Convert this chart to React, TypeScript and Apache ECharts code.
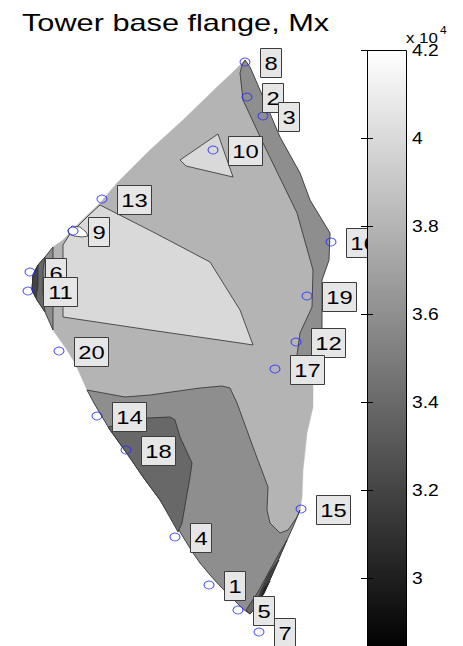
import React, { useEffect, useRef } from 'react';
import * as echarts from 'echarts';

const titleText = 'Tower base flange, Mx';

// Measurement points (picture coordinates of the hidden axes)
const pointNames = ['1', '2', '3', '4', '5', '6', '7', '8', '9', '10', '11', '12', '13', '14', '15', '16', '17', '18', '19', '20'];
const pointX = [209, 247, 263, 175, 238, 30, 259, 245, 73, 213, 28, 296, 102, 97, 301, 331, 275, 126, 307, 59];
const pointY = [585, 97, 116, 537, 610, 272, 632, 62, 231, 150, 291, 342, 199, 416, 509, 242, 369, 450, 296, 351];

// Filled contour regions (painter order) and their levels (x 10^4)
const regionLevels = [3.8, 3.6, 3.6, 3.4, 3.4, 3.2, 3.0, 3.6, 3.4, 3.2, 4.0, 4.0, 4.2];
const hullShape = [
  [245, 60], [250, 67], [263, 97], [280, 137], [300, 173], [310, 200], [330, 233], [329, 260], [322, 280],
  [322, 327], [313, 383], [313, 407], [307, 433], [303, 470], [302, 497], [300, 510], [293, 527], [287, 540],
  [280, 556], [272, 575], [264, 593], [256, 607], [250, 614], [243, 609], [232, 598], [220, 586], [210, 575],
  [200, 563], [193, 553], [180, 532], [160, 500], [143, 477], [128, 455], [110, 430], [95, 405], [87, 390],
  [75, 363], [67, 350], [53, 330], [45, 312], [37, 300], [32, 290], [33, 275], [38, 265], [45, 257], [53, 247],
  [63, 240], [77, 225], [100, 203], [117, 183], [150, 150], [183, 120], [217, 87], [232, 73]
];
const topBandShape = [
  [245, 60], [250, 67], [263, 97], [280, 137], [300, 173], [310, 200], [330, 233], [329, 260], [322, 280],
  [322, 327], [313, 383], [300, 368], [297, 355], [300, 333], [312, 307], [313, 270], [297, 213], [263, 143],
  [243, 100], [240, 73], [242, 65]
];
const bottomBandShape = [
  [87, 390], [125, 397], [150, 395], [200, 388], [222, 386], [230, 388], [237, 403], [253, 447], [268, 487],
  [267, 510], [270, 523], [280, 533], [288, 530], [297, 517], [300, 510], [293, 527], [287, 540], [280, 556],
  [272, 575], [264, 593], [256, 607], [250, 614], [243, 609], [232, 598], [220, 586], [210, 575], [200, 563],
  [193, 553], [180, 532], [160, 500], [143, 477], [128, 455], [110, 430], [95, 405]
];
const region18Shape = [
  [108, 427], [147, 418], [170, 417], [175, 420], [180, 437], [192, 463], [190, 477], [182, 523], [178, 532],
  [160, 500], [143, 477], [128, 455]
];
const tip34Shape = [[287, 540], [280, 556], [272, 575], [264, 593], [256, 607], [250, 614], [246, 610], [258, 592], [270, 570], [280, 552]];
const tip32Shape = [[279, 560], [272, 575], [264, 593], [256, 606], [261, 591], [270, 572]];
const tip30Shape = [[270, 581], [264, 593], [259, 601], [264, 588]];
const left36Shape = [[53, 247], [45, 257], [38, 265], [33, 275], [32, 290], [37, 300], [45, 312], [53, 330], [53, 290]];
const left34Shape = [[45, 257], [38, 265], [33, 275], [32, 290], [37, 300], [45, 312], [43, 292], [43, 270]];
const left32Shape = [[38, 265], [33, 275], [32, 290], [36, 298], [38, 285], [38, 272]];
const lightShape = [
  [100, 205], [155, 233], [210, 262], [240, 310], [253, 345], [240, 343], [150, 330], [63, 317], [63, 245],
  [70, 234], [88, 216]
];
const triangle10Shape = [[180, 160], [218, 134], [233, 177], [186, 166]];
const bubble9Shape = [[68, 230], [72, 226], [80, 227], [86, 232], [88, 236], [82, 237], [74, 236], [69, 234]];
const regionShapes = [
  hullShape, topBandShape, bottomBandShape, region18Shape, tip34Shape, tip32Shape, tip30Shape,
  left36Shape, left34Shape, left32Shape, lightShape, triangle10Shape, bubble9Shape
];

// Colorbar (colour limits of the gray colormap, x 10^4)
const colorbarMin = 2.845;
const colorbarMax = 4.2;
const colorbarTicks = [3, 3.2, 3.4, 3.6, 3.8, 4, 4.2];
const colorbarTickLabels = ['3', '3.2', '3.4', '3.6', '3.8', '4', '4.2'];
const colorbarMultiplier = 'x 10';
const colorbarExponent = '4';

const FONT = '"Liberation Sans", Arial, sans-serif';

function grayOf(v: number): string {
  let t = (v - colorbarMin) / (colorbarMax - colorbarMin);
  t = Math.max(0, Math.min(1, t));
  const c = Math.round(t * 255);
  return `rgb(${c},${c},${c})`;
}

export default function App() {
  const ref = useRef<HTMLDivElement>(null);
  useEffect(() => {
    document.body.style.margin = '0';
    const chart = echarts.init(ref.current!, null, { renderer: 'svg' });
    const cbAxis = (position: string) => ({
      gridIndex: 1, type: 'value', min: colorbarMin, max: colorbarMax, position, z: 20,
      axisLine: { show: false }, axisLabel: { show: false }, splitLine: { show: false },
      axisTick: { show: true, inside: true, length: 6, customValues: colorbarTicks, lineStyle: { color: '#000', width: 1 } }
    });
    const option: any = {
      animation: false,
      backgroundColor: '#ffffff',
      grid: [
        { left: 0, top: 0, width: 463, height: 646 },
        { left: 367, top: 50, width: 39, bottom: 0 }
      ],
      xAxis: [
        { gridIndex: 0, type: 'value', min: 0, max: 463, show: false },
        { gridIndex: 1, type: 'value', min: 0, max: 1, show: false }
      ],
      yAxis: [
        { gridIndex: 0, type: 'value', min: 0, max: 646, inverse: true, show: false },
        cbAxis('right'),
        cbAxis('left')
      ],
      graphic: [
        {
          type: 'text', x: 22, y: 23, scaleX: 1.28, z: 30,
          style: { text: titleText, font: `24px ${FONT}`, fill: '#000', align: 'left', verticalAlign: 'middle' }
        },
        {
          type: 'text', x: 406, y: 38, scaleX: 1.2, z: 30,
          style: { text: colorbarMultiplier, font: `14px ${FONT}`, fill: '#000', align: 'left', verticalAlign: 'middle' }
        },
        {
          type: 'text', x: 440, y: 30, scaleX: 1.2, z: 30,
          style: { text: colorbarExponent, font: `10px ${FONT}`, fill: '#000', align: 'left', verticalAlign: 'middle' }
        }
      ],
      series: [
        {
          type: 'custom', name: 'contours', xAxisIndex: 0, yAxisIndex: 0, clip: false, z: 2, silent: true,
          data: regionLevels.map((lv, i) => [i, lv]),
          renderItem: (params: any, api: any) => {
            const i = params.dataIndex;
            const pts = regionShapes[i].map((p) => api.coord(p));
            const isHull = i === 0;
            return {
              type: 'polygon',
              shape: { points: pts },
              style: {
                fill: grayOf(regionLevels[i]),
                stroke: isHull ? grayOf(regionLevels[i]) : '#2e2e2e',
                lineWidth: isHull ? 0.5 : 0.8
              }
            };
          }
        },
        {
          type: 'scatter', name: 'points', xAxisIndex: 0, yAxisIndex: 0, z: 4, silent: true,
          symbol: 'circle', symbolSize: [10, 8],
          itemStyle: { color: 'rgba(0,0,0,0)', borderColor: '#2a2aff', borderWidth: 1 },
          data: pointX.map((x, i) => [x, pointY[i]])
        },
        {
          type: 'custom', name: 'labels', xAxisIndex: 0, yAxisIndex: 0, clip: false, z: 5, silent: true,
          data: pointX.map((x, i) => [x, pointY[i]]),
          renderItem: (params: any, api: any) => {
            const i = params.dataIndex;
            const p = api.coord([pointX[i], pointY[i]]);
            const name = pointNames[i];
            const w = name.length > 1 ? 34 : 21;
            const left = Math.round(p[0] + 15) + 0.5;
            const top = Math.round(p[1] - 14.5) + 0.5;
            return {
              type: 'group',
              children: [
                {
                  type: 'rect', shape: { x: left, y: top, width: w, height: 29 },
                  style: { fill: '#e6e6e6', stroke: '#3c3c3c', lineWidth: 1 }
                },
                {
                  type: 'text', x: left + w / 2, y: top + 15, scaleX: 1.25,
                  style: { text: name, font: `19px ${FONT}`, fill: '#000', align: 'center', verticalAlign: 'middle' }
                }
              ]
            };
          }
        },
        {
          type: 'custom', name: 'colorbar', xAxisIndex: 1, yAxisIndex: 1, clip: false, z: 15, silent: true,
          data: [[0, colorbarMin]],
          renderItem: (params: any, api: any) => {
            const tl = api.coord([0, colorbarMax]);
            const br = api.coord([1, colorbarMin]);
            return {
              type: 'rect',
              shape: { x: tl[0] + 0.5, y: tl[1] + 0.5, width: br[0] - tl[0], height: br[1] - tl[1] + 4 },
              style: {
                fill: new echarts.graphic.LinearGradient(0, 0, 0, 1, [
                  { offset: 0, color: grayOf(colorbarMax) },
                  { offset: 1, color: grayOf(colorbarMin) }
                ]),
                stroke: '#000', lineWidth: 1
              }
            };
          }
        },
        {
          type: 'custom', name: 'colorbarLabels', xAxisIndex: 1, yAxisIndex: 1, clip: false, z: 16, silent: true,
          data: colorbarTicks.map((v) => [1, v]),
          renderItem: (params: any, api: any) => {
            const i = params.dataIndex;
            const p = api.coord([1, colorbarTicks[i]]);
            return {
              type: 'text', x: p[0] + 6, y: p[1] + 1, scaleX: 1.2,
              style: { text: colorbarTickLabels[i], font: `16px ${FONT}`, fill: '#000', align: 'left', verticalAlign: 'middle' }
            };
          }
        }
      ]
    };
    chart.setOption(option);
    return () => chart.dispose();
  }, []);
  return <div ref={ref} style={{ position: 'absolute', left: 0, top: 0, width: 463, height: 646 }} />;
}
